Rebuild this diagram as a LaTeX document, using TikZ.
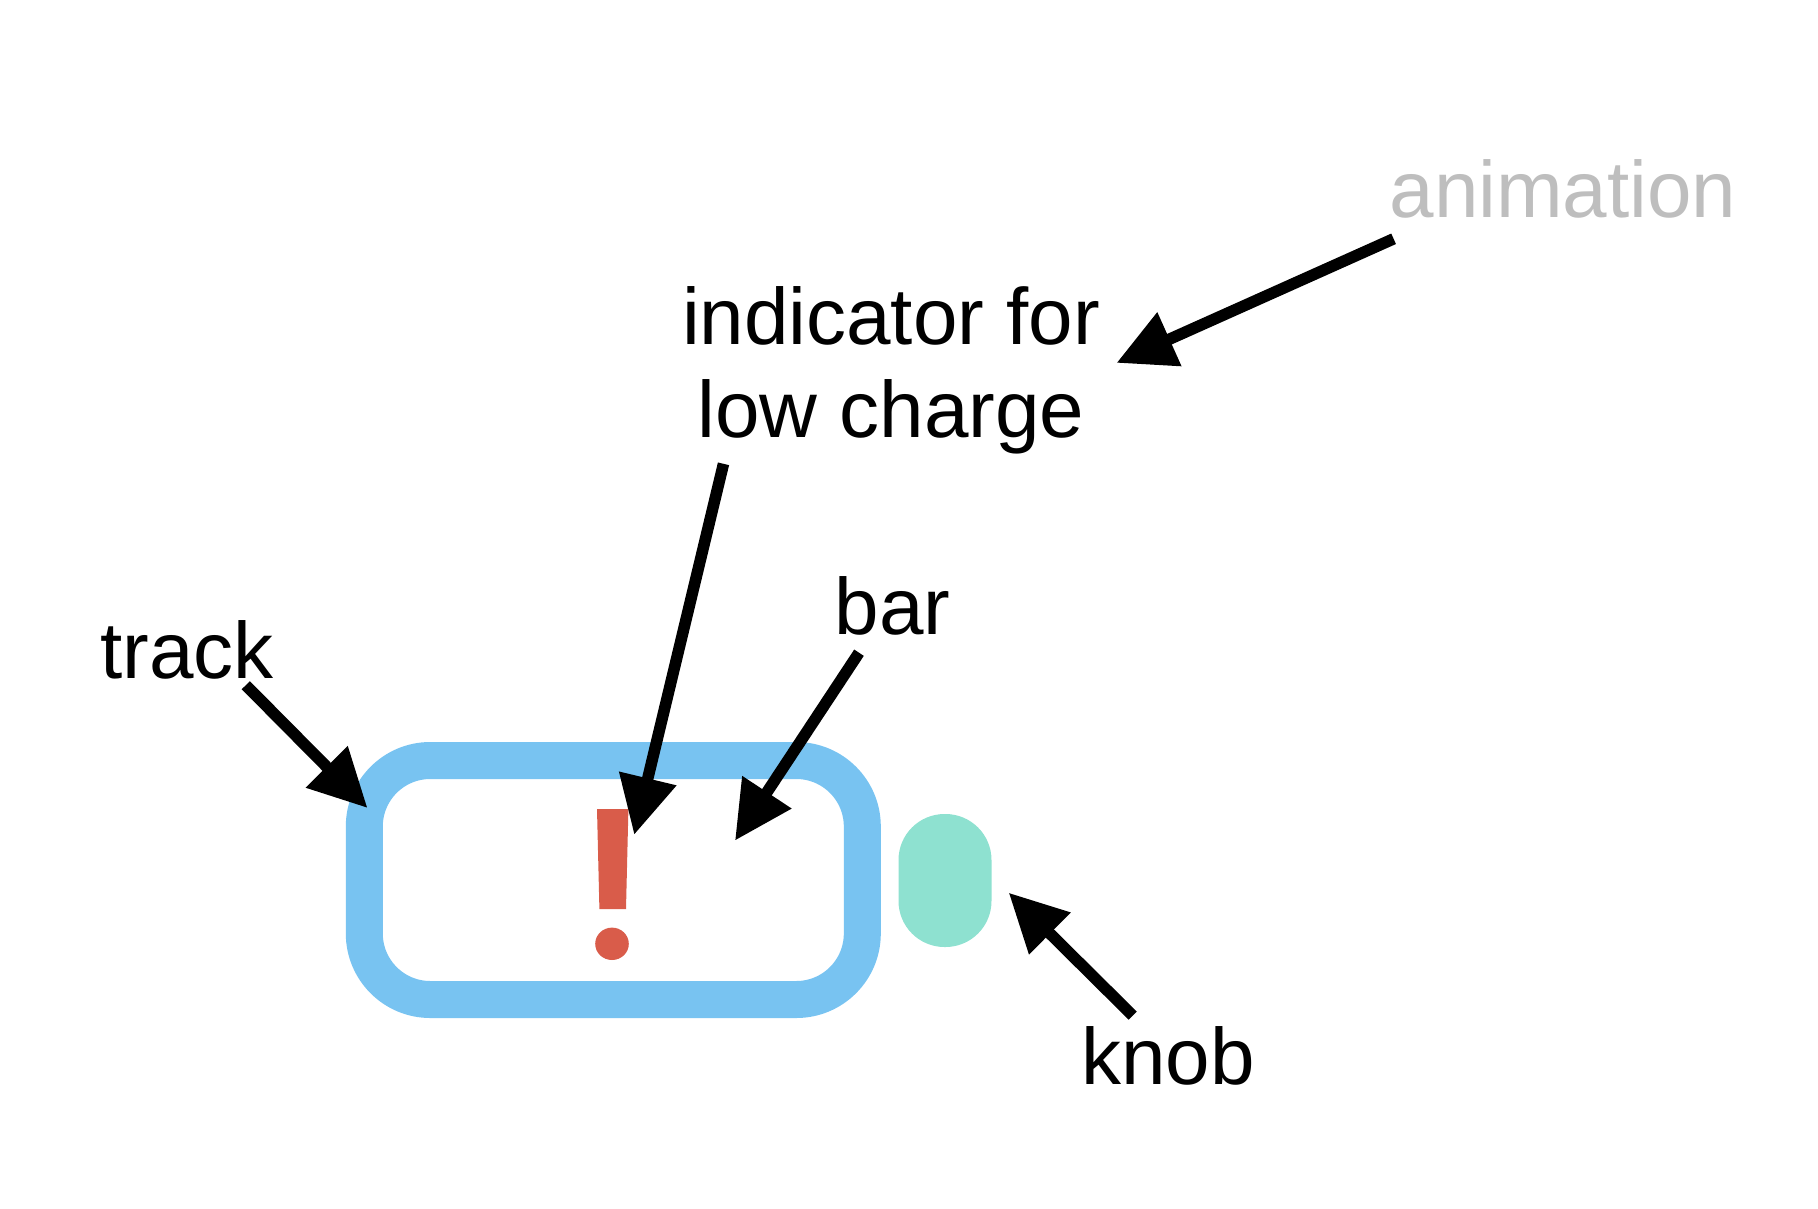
\documentclass[tikz,border=0pt]{standalone}
\usepackage{fontspec}
\setmainfont{Liberation Sans}
\usetikzlibrary{arrows.meta}
\definecolor{trackblue}{RGB}{120,195,241}
\definecolor{knobgreen}{RGB}{142,225,208}
\definecolor{alertred}{RGB}{217,92,74}
\definecolor{softgray}{RGB}{190,190,190}
\tikzset{
  caption/.style={font=\fontsize{80}{93}\selectfont, anchor=base, inner sep=0pt, align=center},
  pointer/.style={line width=11.5pt, -{Triangle[length=58pt,width=56pt]}},
}
\begin{document}
\begin{tikzpicture}[x=1pt, y=-1pt]
  \useasboundingbox (0,0) rectangle (1818,1208);
  % battery parts
  \node[draw=trackblue, line width=37pt, rounded corners=66pt, minimum width=498pt, minimum height=239pt, inner sep=0pt] (track) at (613.3,880) {};
  \node[fill=knobgreen, rounded corners=46pt, minimum width=93pt, minimum height=133pt, inner sep=0pt] (knob) at (945,880.5) {};
  \fill[alertred] (597,809) -- (628.4,809) -- (626,909) -- (599.4,909) -- cycle;
  \fill[alertred] (612,943.8) ellipse [x radius=16.8, y radius=16.2];
  % labels
  \node[caption, softgray] (animation) at (1563,217) {animation};
  \node[caption] (indicator) at (891,437) {indicator for\\low charge};
  \node[caption] (bar) at (892.5,634) {bar};
  \node[caption] (tracklabel) at (187,678) {track};
  \node[caption] (knoblabel) at (1168,1084) {knob};
  % arrow ends
  \coordinate (animation from) at (1393.6,238.8);
  \coordinate (animation to) at (1116.5,362.9);
  \coordinate (indicator from) at (723.5,463.8);
  \coordinate (indicator to) at (634.2,834.8);
  \coordinate (bar from) at (859,652.7);
  \coordinate (bar to) at (735,840.6);
  \coordinate (track from) at (245.8,685.2);
  \coordinate (track to) at (367.5,808);
  \coordinate (knob from) at (1132.7,1015.6);
  \coordinate (knob to) at (1008.7,892.7);
  \foreach \part in {animation, indicator, bar, track, knob}
    \draw[pointer] (\part\space from) -- (\part\space to);
\end{tikzpicture}
\end{document}
